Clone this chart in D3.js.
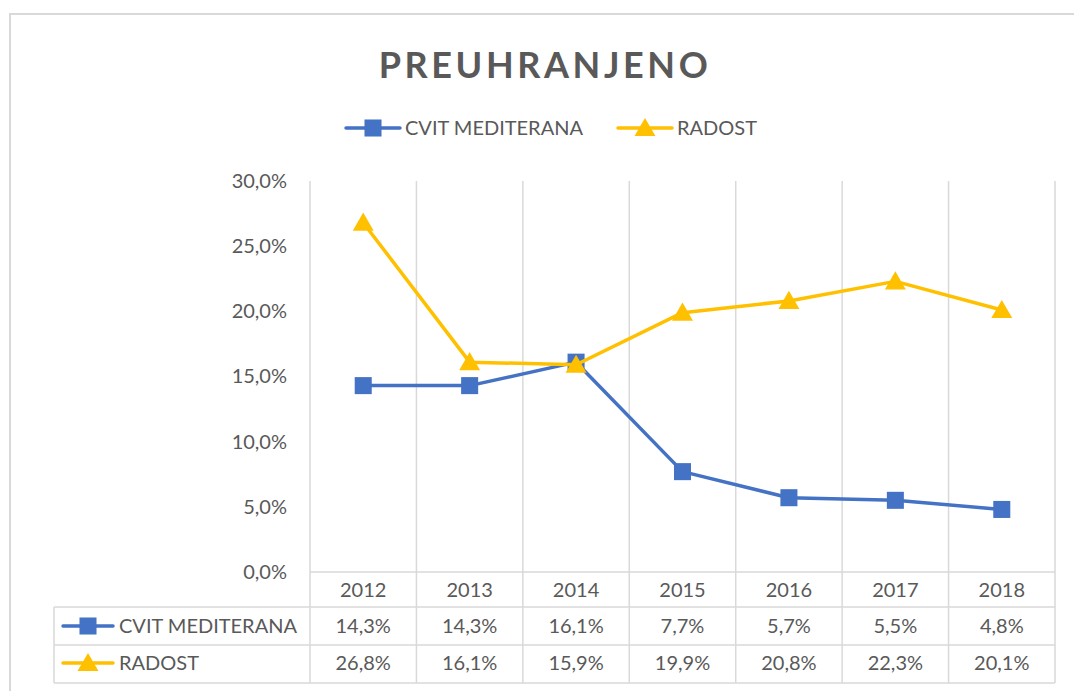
<!DOCTYPE html>
<html>
<head>
<meta charset="utf-8">
<script src="https://cdn.jsdelivr.net/npm/d3@7"></script>
<style>
  body { margin: 0; background: #fff; }
  svg { display: block; font-family: Lato, "Open Sans", sans-serif; }
</style>
</head>
<body>
<div id="chart"></div>
<script>
// data
const years = ["2012", "2013", "2014", "2015", "2016", "2017", "2018"];
const cvit = [14.3, 14.3, 16.1, 7.7, 5.7, 5.5, 4.8];
const radost = [26.8, 16.1, 15.9, 19.9, 20.8, 22.3, 20.1];
const seriesNames = ["CVIT MEDITERANA", "RADOST"];
const yTicks = [0, 5, 10, 15, 20, 25, 30];

// constants
const w = 1074;
const h = 691;
const gridColor = "#d9d9d9";
const textColor = "#595959";
const colors = ["#4472c4", "#ffc000"];
const plotTop = 181;
const plotBottom = 572;
const rowLines = [572, 607, 645, 683];
const tableLeft = 54;

const fmt = (v, d) => v.toFixed(d).replace(".", ",") + "%";

const svg = d3
  .select("#chart")
  .append("svg")
  .attr("width", w)
  .attr("height", h);

// chart frame
svg
  .append("path")
  .attr("d", `M10,${h + 5} V14 H${w + 5}`)
  .attr("fill", "none")
  .attr("stroke", gridColor)
  .attr("stroke-width", 2);

// title
svg
  .append("text")
  .attr("x", 545)
  .attr("y", 78)
  .attr("text-anchor", "middle")
  .attr("font-size", 36)
  .attr("font-weight", "bold")
  .attr("letter-spacing", 3.6)
  .attr("fill", textColor)
  .text("PREUHRANJENO");

// scales
const xScale = d3.scaleBand().domain(years).range([310, 1055]);
const yScale = d3.scaleLinear().domain([0, 30]).range([plotBottom, plotTop]);

// vertical gridlines (run through the data table)
const bounds = years.map((d) => xScale(d)).concat([xScale.range()[1]]);
svg
  .append("g")
  .selectAll("line")
  .data(bounds)
  .join("line")
  .attr("x1", (d) => d)
  .attr("x2", (d) => d)
  .attr("y1", plotTop)
  .attr("y2", rowLines[3])
  .attr("stroke", gridColor)
  .attr("stroke-width", 1.5);

// table horizontal lines
svg
  .append("g")
  .selectAll("line")
  .data(rowLines)
  .join("line")
  .attr("x1", (d, i) => (i === 0 ? 310 : tableLeft))
  .attr("x2", 1055)
  .attr("y1", (d) => d)
  .attr("y2", (d) => d)
  .attr("stroke", gridColor)
  .attr("stroke-width", 1.5);
svg
  .append("line")
  .attr("x1", tableLeft)
  .attr("x2", tableLeft)
  .attr("y1", rowLines[1])
  .attr("y2", rowLines[3])
  .attr("stroke", gridColor)
  .attr("stroke-width", 1.5);

// y axis
const yAxis = d3
  .axisLeft(yScale)
  .tickValues(yTicks)
  .tickFormat((d) => fmt(d, 1))
  .tickSize(0)
  .tickPadding(0);
svg
  .append("g")
  .attr("transform", "translate(287,0)")
  .call(yAxis)
  .call((g) => g.select(".domain").remove())
  .selectAll("text")
  .attr("font-size", 20)
  .attr("font-family", "Lato, sans-serif")
  .attr("fill", textColor);

// markers
const square = d3.symbol().type(d3.symbolSquare).size(290);
const triangle = d3.symbol().type(d3.symbolTriangle).size(190);
const symbols = [square, triangle];
const triOffset = [0, 2];

// lines
const data = [cvit, radost];
const line = d3
  .line()
  .x((d, i) => xScale(years[i]) + xScale.bandwidth() / 2)
  .y((d) => yScale(d));

data.forEach((s, k) => {
  svg
    .append("path")
    .datum(s)
    .attr("d", line)
    .attr("fill", "none")
    .attr("stroke", colors[k])
    .attr("stroke-width", 3.5)
    .attr("stroke-linejoin", "round");
  svg
    .append("g")
    .selectAll("path")
    .data(s)
    .join("path")
    .attr("d", symbols[k])
    .attr("fill", colors[k])
    .attr(
      "transform",
      (d, i) =>
        `translate(${xScale(years[i]) + xScale.bandwidth() / 2},${yScale(d) + triOffset[k]})`
    );
});

// legend key helper
function key(g, k, x, y, len) {
  g.append("line")
    .attr("x1", x)
    .attr("x2", x + len)
    .attr("y1", y)
    .attr("y2", y)
    .attr("stroke", colors[k])
    .attr("stroke-width", 3.5)
    .attr("stroke-linecap", "round");
  g.append("path")
    .attr("d", symbols[k])
    .attr("fill", colors[k])
    .attr("transform", `translate(${x + len / 2},${y + triOffset[k]})`);
}

// legend
const legend = svg.append("g");
const legendX = [346, 618];
seriesNames.forEach((name, k) => {
  key(legend, k, legendX[k], 128, 54);
  legend
    .append("text")
    .attr("x", legendX[k] + 59)
    .attr("y", 135)
    .attr("font-size", 20)
    .attr("fill", textColor)
    .text(name);
});

// data table
const table = svg.append("g");
table
  .selectAll(".year")
  .data(years)
  .join("text")
  .attr("class", "year")
  .attr("x", (d) => xScale(d) + xScale.bandwidth() / 2)
  .attr("y", 597)
  .attr("text-anchor", "middle")
  .attr("font-size", 20)
  .attr("fill", textColor)
  .text((d) => d);

const rowY = [633, 670];
data.forEach((s, k) => {
  key(table, k, 63, rowY[k] - 7, 50);
  table
    .append("text")
    .attr("x", 119)
    .attr("y", rowY[k])
    .attr("font-size", 20)
    .attr("fill", textColor)
    .text(seriesNames[k]);
  table
    .append("g")
    .selectAll("text")
    .data(s)
    .join("text")
    .attr("x", (d, i) => xScale(years[i]) + xScale.bandwidth() / 2)
    .attr("y", rowY[k])
    .attr("text-anchor", "middle")
    .attr("font-size", 20)
    .attr("fill", textColor)
    .text((d) => fmt(d, 1));
});
</script>
</body>
</html>
